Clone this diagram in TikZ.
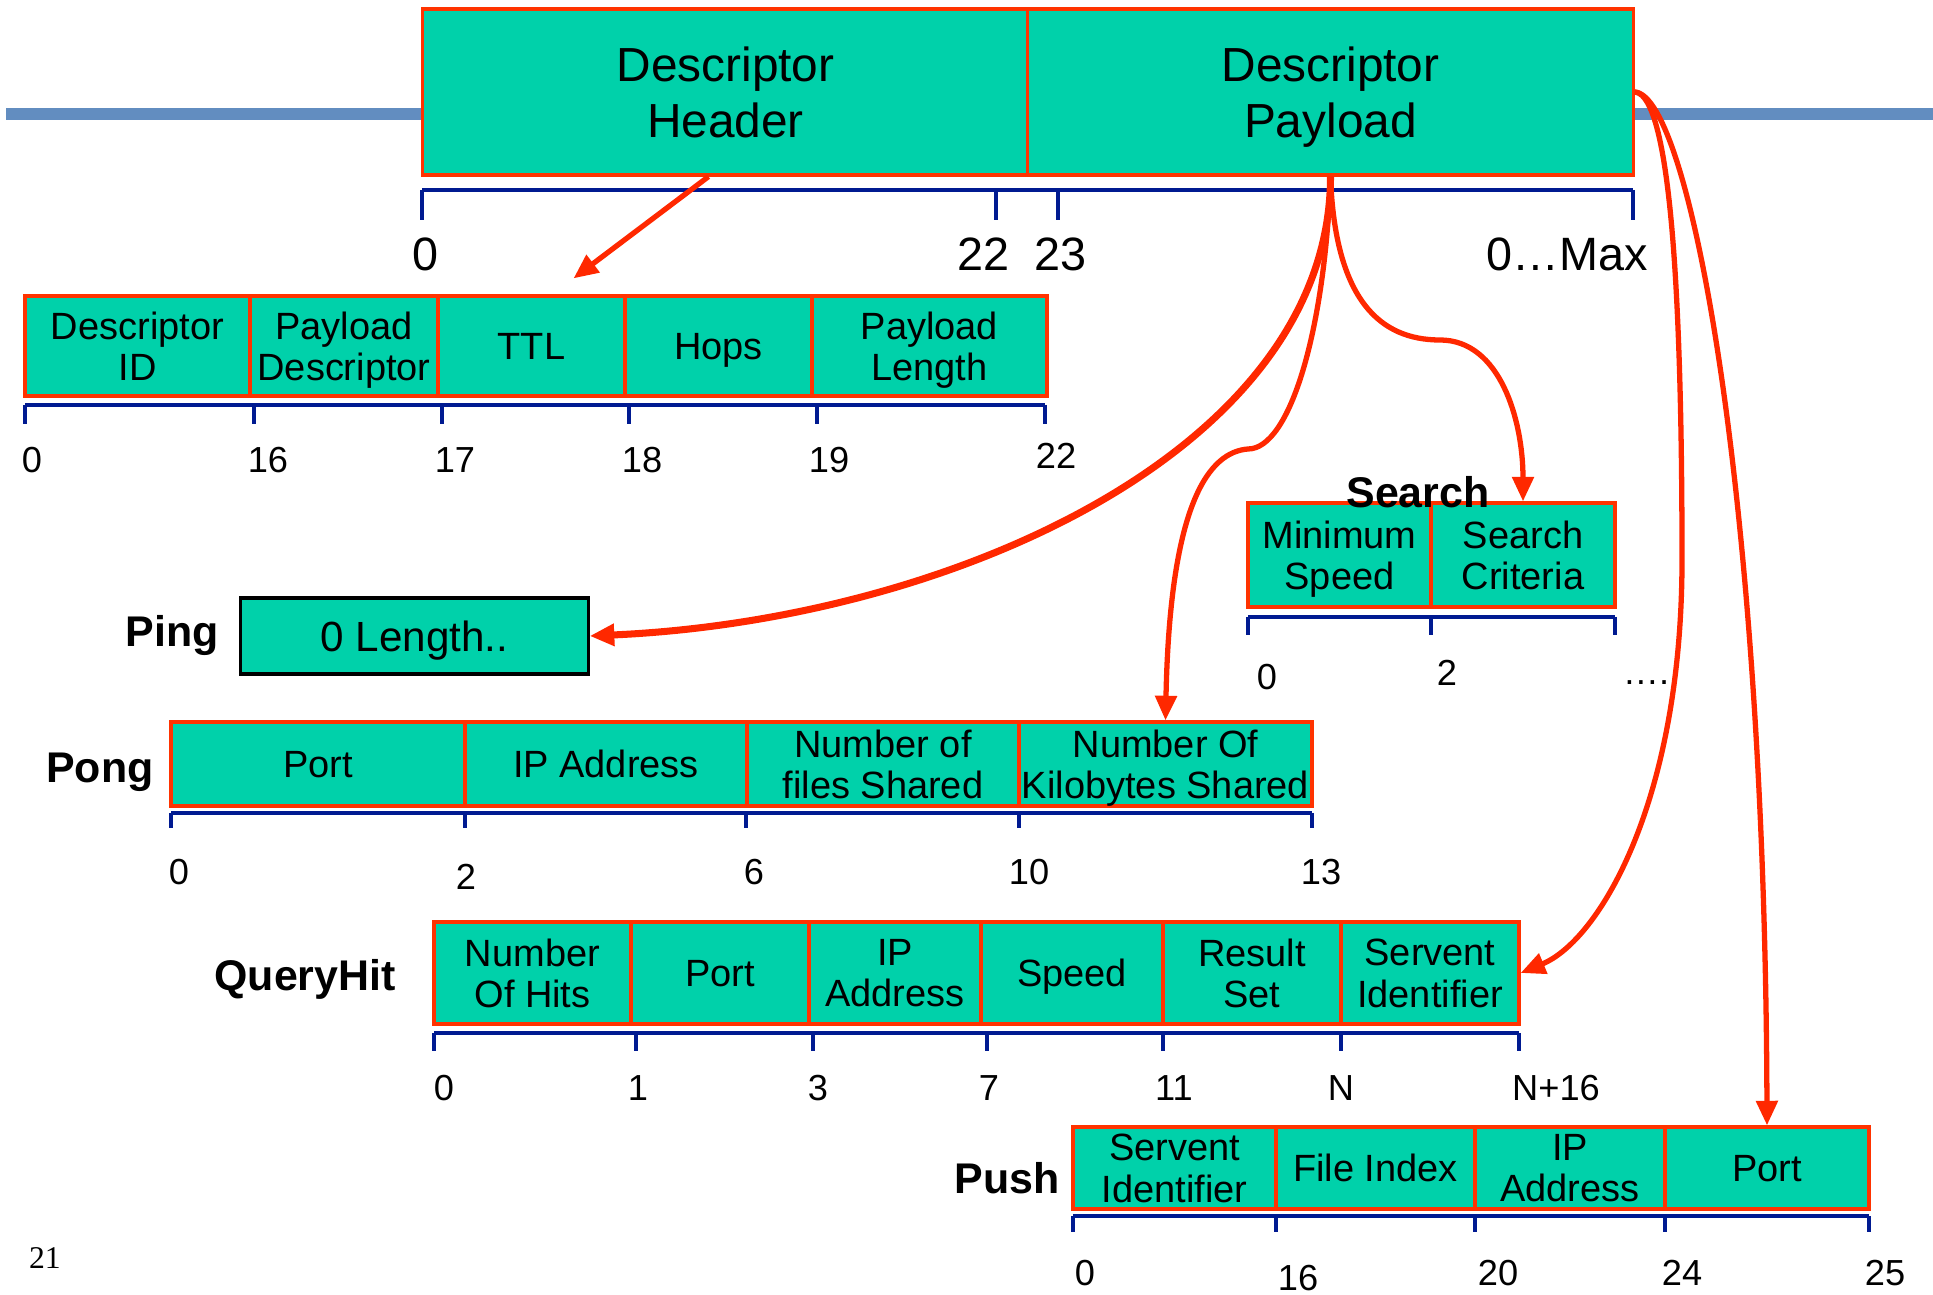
\documentclass[tikz,border=0pt]{standalone}
\usepackage{fontspec}
\setmainfont{Liberation Sans}
\newfontfamily\pagefont{Liberation Serif}
\usepackage{xcolor}
\usetikzlibrary{arrows.meta}
\definecolor{PktTeal}{RGB}{0,209,170}
\definecolor{EdgeRed}{RGB}{255,51,0}
\definecolor{ArrowRed}{RGB}{255,40,0}
\definecolor{BarBlue}{RGB}{0,26,145}
\definecolor{RuleBlue}{RGB}{98,141,192}

\begin{document}
\begin{tikzpicture}[x=0.01cm,y=-0.01cm,
    fld/.style={draw=EdgeRed,fill=PktTeal,line width=0.9pt,inner sep=0pt,text depth=0pt,
                align=center,font=\fontsize{10.8}{11.8}\selectfont},
    big/.style={fld,font=\fontsize{13.6}{15.8}\selectfont},
    bar/.style={BarBlue,line width=1.4pt},
    tck/.style={BarBlue,line width=1pt},
    num/.style={inner sep=0pt,font=\fontsize{10.3}{12}\selectfont},
    bignum/.style={inner sep=0pt,font=\fontsize{13.3}{15}\selectfont},
    msg/.style={inner sep=0pt,font=\bfseries\fontsize{12.2}{14}\selectfont},
    arrow/.style={-{Triangle[length=7pt,width=6pt]},line width=1.5pt,ArrowRed}]

    \useasboundingbox (0,0) rectangle (1933,1295);

    % slide rule behind the descriptor
    \coordinate (ruleL) at (6,114);
    \coordinate (ruleR) at (1933,114);
    \draw[RuleBlue,line width=3.6pt] (ruleL) -- (ruleR);

    % descriptor
    \node[big,minimum width=6.05cm,minimum height=1.66cm] (dhead) at (725.5,92) {Descriptor\\Header};
    \node[big,minimum width=6.05cm,minimum height=1.66cm] (dpay) at (1330.5,92) {Descriptor\\Payload};
    \draw[bar] (422,190) -- (1633,190);
    \foreach \x in {422,996,1058,1633} { \draw[tck] (\x,190) -- (\x,220); }
    \foreach \x/\v [count=\i] in {425/0,983/22,1060/23,1567/0…Max}
      { \node[bignum] (top\i) at (\x,254) {\v}; }

    % header
    \foreach \l/\r/\n/\t in {25/250/hdr1/{Descriptor\\ID},250/438/hdr2/{Payload\\Descriptor},
        438/625/hdr3/TTL,625/812/hdr4/Hops,812/1047/hdr5/{Payload\\Length}}
      { \node[fld,minimum width={(\r-\l)*0.01cm},minimum height=1cm] (\n) at ({(\l+\r)/2},346) {\t}; }
    \draw[bar] (25,405) -- (1045,405);
    \foreach \x in {25,254,442,629,817,1045} { \draw[tck] (\x,405) -- (\x,424); }
    \foreach \x/\y/\v [count=\i] in {32/460/0,268/460/16,455/460/17,642/460/18,829/460/19,1056/456/22}
      { \node[num] (hn\i) at (\x,\y) {\v}; }

    % search
    \foreach \l/\r/\n/\t in {1248/1431/srch1/{Minimum\\Speed},1431/1615/srch2/{Search\\Criteria}}
      { \node[fld,minimum width={(\r-\l)*0.01cm},minimum height=1.04cm] (\n) at ({(\l+\r)/2},555) {\t}; }
    \node[msg] (lsearch) at (1418,492) {Search};
    \draw[bar] (1248,617) -- (1615,617);
    \foreach \x in {1248,1431,1615} { \draw[tck] (\x,617) -- (\x,635); }
    \foreach \x/\y/\v [count=\i] in {1267/677/0,1447/673/2,1646/683/….}
      { \node[num] (sn\i) at (\x,\y) {\v}; }

    % ping
    \node[fld,draw=black,minimum width=3.47cm,minimum height=0.76cm,
          font=\fontsize{12}{14}\selectfont] (ping) at (414.5,636) {0 Length..};
    \node[msg] (lping) at (172,636) {Ping};

    % pong
    \foreach \l/\r/\n/\t in {171/465/pong1/Port,465/747/pong2/IP Address,
        747/1019/pong3/{Number of\\files Shared},1019/1312/pong4/{Number Of\\Kilobytes Shared}}
      { \node[fld,minimum width={(\r-\l)*0.01cm},minimum height=0.84cm] (\n) at ({(\l+\r)/2},764) {\t}; }
    \node[msg] (lpong) at (100,772) {Pong};
    \draw[bar] (171,813) -- (1312,813);
    \foreach \x in {171,465,746,1019,1312} { \draw[tck] (\x,813) -- (\x,828); }
    \foreach \x/\y/\v [count=\i] in {179/872/0,466/877/2,754/872/6,1029/872/10,1321/872/13}
      { \node[num] (pn\i) at (\x,\y) {\v}; }

    % queryhit
    \foreach \l/\r/\n/\t in {434/631/qh1/{Number\\Of Hits},631/809/qh2/Port,809/981/qh3/{IP\\Address},
        981/1163/qh4/Speed,1163/1341/qh5/{Result\\Set},1341/1519/qh6/{Servent\\Identifier}}
      { \node[fld,minimum width={(\r-\l)*0.01cm},minimum height=1.02cm] (\n) at ({(\l+\r)/2},973) {\t}; }
    \node[msg] (lqh) at (305,979) {QueryHit};
    \draw[bar] (434,1033) -- (1519,1033);
    \foreach \x in {434,636,813,987,1163,1341,1519} { \draw[tck] (\x,1033) -- (\x,1051); }
    \foreach \x/\v [count=\i] in {444/0,638/1,818/3,989/7,1174/11,1341/N,1556/N+16}
      { \node[num] (qn\i) at (\x,1088) {\v}; }

    % push
    \foreach \l/\r/\n/\t in {1073/1276/push1/{Servent\\Identifier},1276/1475/push2/File Index,
        1475/1665/push3/{IP\\Address},1665/1869/push4/Port}
      { \node[fld,minimum width={(\r-\l)*0.01cm},minimum height=0.82cm] (\n) at ({(\l+\r)/2},1168) {\t}; }
    \node[msg] (lpush) at (1007,1178) {Push};
    \draw[bar] (1073,1216) -- (1869,1216);
    \foreach \x in {1073,1276,1475,1665,1869} { \draw[tck] (\x,1216) -- (\x,1232); }
    \foreach \x/\y/\v [count=\i] in {1085/1273/0,1298/1278/16,1498/1273/20,1682/1273/24,1885/1273/25}
      { \node[num] (un\i) at (\x,\y) {\v}; }

    \node[inner sep=0pt,font=\pagefont\fontsize{9}{11}\selectfont] (pgno) at (45,1258) {21};

    % arrows
    \coordinate (kinkP) at (1248,449);
    \coordinate (kinkS) at (1440,340);
    \coordinate (kinkQ) at (1682,560);
    \draw[arrow] ([xshift=-0.17cm]dhead.south) -- ([xshift=0.42cm,yshift=0.16cm]hdr3.north);
    \draw[arrow,line width=2pt] (dpay.south) .. controls (1330,450) and (950,620) .. (ping.east);
    \draw[arrow] (dpay.south) .. controls (1325,330) and (1290,449) .. (kinkP)
                 .. controls (1210,452) and (1170,500) .. (pong4.north);
    \draw[arrow] (dpay.south) .. controls (1335,300) and (1380,340) .. (kinkS)
                 .. controls (1500,340) and (1523,420) .. (srch2.north);
    \draw[arrow] (dpay.east) .. controls (1675,95) and (1682,350) .. (kinkQ)
                 .. controls (1682,800) and (1600,940) .. (qh6.east);
    \draw[arrow] (dpay.east) .. controls (1690,95) and (1765,500) .. (push4.north);
  \end{tikzpicture}
\end{document}
